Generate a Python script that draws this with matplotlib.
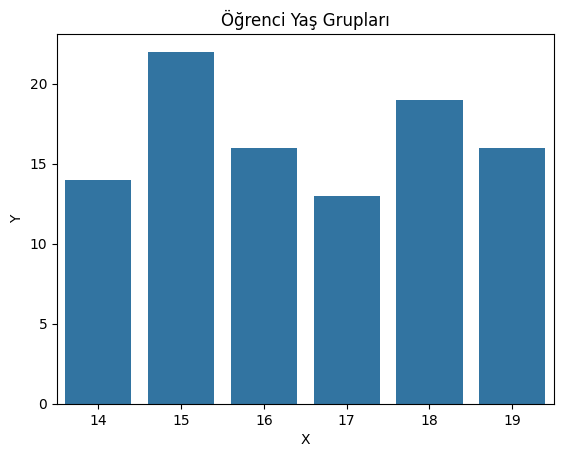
import matplotlib
matplotlib.use("Agg")
import matplotlib.pyplot as plt
import seaborn as sns

ages = ["14", "15", "16", "17", "18", "19"]
counts = [14, 22, 16, 13, 19, 16]

fig, ax = plt.subplots(figsize=(5.62, 4.57), dpi=100)
fig.subplots_adjust(left=0.1014, right=0.985, top=0.9256, bottom=0.116)

sns.barplot(x=ages, y=counts, color="#3274a1", saturation=1, ax=ax)
ax.set_title("Öğrenci Yaş Grupları")
ax.set_xlabel("X")
ax.set_ylabel("Y")

plt.savefig("out.png", dpi=100)
